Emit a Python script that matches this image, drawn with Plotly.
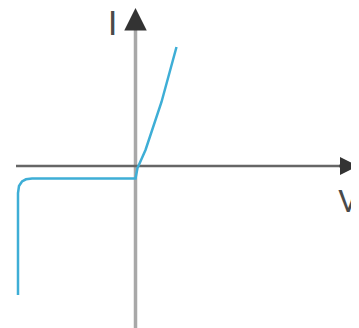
import plotly.graph_objects as go

# diode I-V curve (V and I in arbitrary units)
curve_v = [-5.875, -5.875, -5.825, -5.675, -5.475, -5.175, 0.0, 0.1, 0.5, 1.3, 2.05]
curve_i = [-6.4, -1.3, -0.95, -0.725, -0.615, -0.58, -0.58, -0.05, 0.85, 3.25, 6.0]

# axis extents
v_axis_i = [-8.1, 7.05]
h_axis_v = [-5.975, 10.5]
v_tip = 11.125
i_tip = 7.95

axis_labels = ["I", "V"]

curve_color = "#3eaed6"
font_family = "Liberation Sans Narrow, Roboto, Liberation Sans, sans-serif"

fig = go.Figure()

# vertical axis (I)
fig.add_trace(go.Scatter(x=[0, 0], y=v_axis_i, mode="lines",
                         line=dict(color="#a8a8a8", width=3.5),
                         hoverinfo="skip", showlegend=False))
# horizontal axis (V)
fig.add_trace(go.Scatter(x=h_axis_v, y=[0.05, 0.05], mode="lines",
                         line=dict(color="#666666", width=2.5),
                         hoverinfo="skip", showlegend=False))
# the curve
fig.add_trace(go.Scatter(x=curve_v, y=curve_i, mode="lines",
                         line=dict(color=curve_color, width=2.5),
                         hoverinfo="skip", showlegend=False))

# arrow heads
fig.add_annotation(x=0, y=i_tip, xref="x", yref="y", ax=0, ay=20,
                   text="", showarrow=True, arrowhead=2, arrowsize=1.5,
                   arrowwidth=3, arrowcolor="#333333")
fig.add_annotation(x=v_tip, y=0.05, xref="x", yref="y", ax=-20, ay=0,
                   text="", showarrow=True, arrowhead=2, arrowsize=1.2,
                   arrowwidth=3, arrowcolor="#333333")

# axis letters
fig.add_annotation(x=-1.175, y=7.2, xref="x", yref="y", text=axis_labels[0],
                   showarrow=False, font=dict(family=font_family, size=34, color="#4a4a4a"))
fig.add_annotation(x=10.6, y=-1.7, xref="x", yref="y", text=axis_labels[1],
                   showarrow=False, font=dict(family=font_family, size=32, color="#4a4a4a"))

# the page body has an 8px margin, so the figure is 8px smaller and its ranges start 8px in
fig.update_xaxes(range=[-6.375, 11.175], visible=False)
fig.update_yaxes(range=[-8.05, 7.95], visible=False)
fig.update_layout(width=351, height=320,
                  margin=dict(l=0, r=0, t=0, b=0),
                  plot_bgcolor="white", paper_bgcolor="white")

fig.write_html("out.html")
